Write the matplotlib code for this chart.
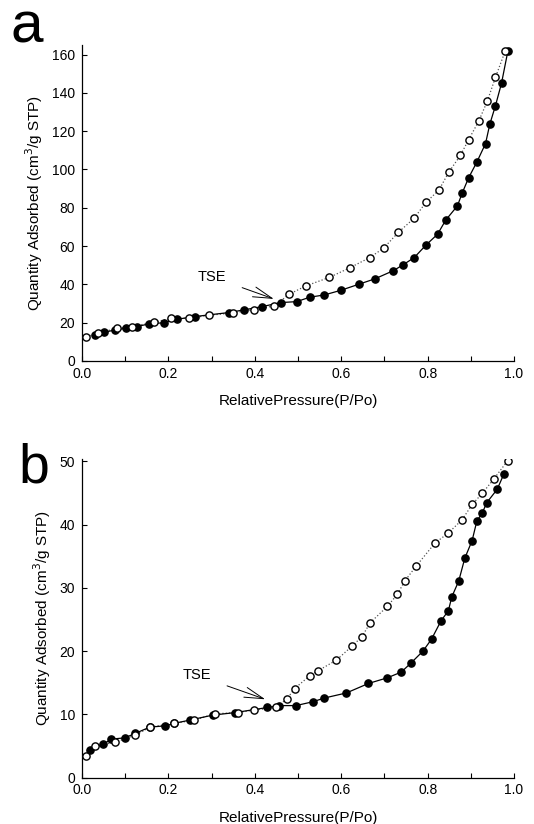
import matplotlib
matplotlib.use("Agg")
import matplotlib.pyplot as plt
from matplotlib.ticker import MultipleLocator

plt.rcParams['font.family'] = ['Liberation Sans', 'DejaVu Sans']

# --- panel a: adsorption (filled) / desorption (open) ---
a_ads_p = [0.029, 0.052, 0.076, 0.101, 0.127, 0.154, 0.189, 0.220, 0.261, 0.340,
           0.375, 0.417, 0.460, 0.497, 0.527, 0.561, 0.599, 0.641, 0.678, 0.721,
           0.743, 0.769, 0.796, 0.823, 0.842, 0.869, 0.880, 0.895, 0.914, 0.934,
           0.944, 0.957, 0.971, 0.986]
a_ads_q = [13.6, 15.0, 16.2, 17.1, 18.0, 19.3, 20.0, 21.8, 23.2, 25.3,
           26.7, 28.4, 30.5, 31.0, 33.3, 34.5, 36.9, 40.1, 42.9, 47.2,
           50.2, 54.0, 60.5, 66.2, 73.6, 81.0, 87.7, 95.7, 103.9, 113.5,
           123.7, 133.3, 145.0, 162.1]
a_des_p = [0.010, 0.036, 0.081, 0.116, 0.166, 0.207, 0.248, 0.295, 0.349, 0.397,
           0.445, 0.480, 0.518, 0.572, 0.621, 0.666, 0.698, 0.732, 0.769, 0.796,
           0.826, 0.849, 0.876, 0.895, 0.918, 0.938, 0.957, 0.980]
a_des_q = [12.7, 14.5, 17.1, 18.0, 20.2, 22.3, 22.3, 23.9, 25.1, 26.7,
           28.8, 34.9, 39.2, 43.6, 48.8, 54.0, 58.9, 67.1, 74.6, 82.8,
           89.2, 98.6, 107.4, 115.6, 125.1, 135.6, 148.1, 162.1]

# --- panel b ---
b_ads_p = [0.019, 0.049, 0.068, 0.099, 0.123, 0.157, 0.193, 0.214, 0.249, 0.303,
           0.355, 0.429, 0.457, 0.495, 0.534, 0.561, 0.612, 0.663, 0.707, 0.739,
           0.761, 0.789, 0.809, 0.831, 0.848, 0.856, 0.872, 0.886, 0.903, 0.914,
           0.926, 0.937, 0.961, 0.977]
b_ads_q = [4.4, 5.3, 6.1, 6.3, 7.0, 8.0, 8.2, 8.6, 9.1, 9.9,
           10.3, 11.1, 11.4, 11.4, 12.0, 12.6, 13.4, 14.9, 15.8, 16.7,
           18.1, 20.0, 21.9, 24.8, 26.4, 28.6, 31.1, 34.7, 37.5, 40.6,
           41.8, 43.5, 45.6, 48.1]
b_des_p = [0.009, 0.029, 0.076, 0.123, 0.158, 0.214, 0.260, 0.307, 0.361, 0.399,
           0.449, 0.475, 0.492, 0.527, 0.546, 0.589, 0.625, 0.648, 0.667, 0.707,
           0.730, 0.747, 0.774, 0.817, 0.848, 0.880, 0.903, 0.927, 0.954, 0.985]
b_des_q = [3.5, 5.0, 5.6, 6.7, 8.0, 8.6, 9.1, 10.1, 10.3, 10.7,
           11.1, 12.5, 14.1, 16.1, 16.9, 18.6, 20.8, 22.3, 24.5, 27.1,
           29.0, 31.1, 33.5, 37.1, 38.7, 40.8, 43.2, 45.0, 47.3, 50.1]

fig = plt.figure(figsize=(5.34, 8.24), dpi=100)
ax_a = fig.add_axes([0.1536, 0.5619, 0.809, 0.3835])
ax_b = fig.add_axes([0.1536, 0.0562, 0.809, 0.3868])


def draw(ax, ads_p, ads_q, des_p, des_q, ymax, ystep, tse_xy, tse_text_xy):
    ax.plot(des_p, des_q, ls=':', color='#555555', lw=0.9, zorder=2)
    ax.plot(ads_p, ads_q, ls='-', color='black', lw=0.9, zorder=3)
    ax.plot(ads_p, ads_q, 'o', ms=5.2, mfc='black', mec='black', mew=1.0, zorder=4)
    ax.plot(des_p, des_q, 'o', ms=5.2, mfc='white', mec='black', mew=1.0, zorder=5)
    ax.set_xlim(0, 1.0)
    ax.set_ylim(0, ymax)
    ax.xaxis.set_major_locator(MultipleLocator(0.2))
    ax.xaxis.set_minor_locator(MultipleLocator(0.1))
    ax.yaxis.set_major_locator(MultipleLocator(ystep))
    ax.tick_params(direction='in', length=3.5, width=0.8, labelsize=10)
    ax.tick_params(axis='x', pad=4)
    ax.tick_params(axis='y', pad=5)
    ax.tick_params(which='minor', direction='in', length=3.5, width=0.8)
    ax.tick_params(axis='y', which='minor', left=False)
    ax.xaxis.set_major_formatter(plt.FuncFormatter(lambda v, _: f"{v:.1f}"))
    for s in ['top', 'right']:
        ax.spines[s].set_visible(False)
    ax.spines['left'].set_linewidth(0.9)
    ax.spines['bottom'].set_linewidth(0.9)
    ax.set_xlabel('RelativePressure(P/Po)', fontsize=11, labelpad=10)
    ax.set_ylabel('Quantity Adsorbed (cm$^3$/g STP)', fontsize=11, labelpad=5)
    ax.annotate('TSE', xy=tse_xy, xytext=tse_text_xy, fontsize=10.5,
                ha='center', va='center',
                arrowprops=dict(arrowstyle='->,head_length=1.3,head_width=0.35',
                                color='black', lw=0.7, shrinkA=10, shrinkB=0))


draw(ax_a, a_ads_p, a_ads_q, a_des_p, a_des_q, 165, 20,
     (0.444, 32.4), (0.301, 43.9))
draw(ax_b, b_ads_p, b_ads_q, b_des_p, b_des_q, 50.4, 10,
     (0.424, 12.4), (0.266, 16.2))

# panel letters
fig.text(0.020, 0.948, 'a', fontsize=42, ha='left', va='baseline')
fig.text(0.034, 0.414, 'b', fontsize=40, ha='left', va='baseline')

fig.savefig('out.png', dpi=100)
